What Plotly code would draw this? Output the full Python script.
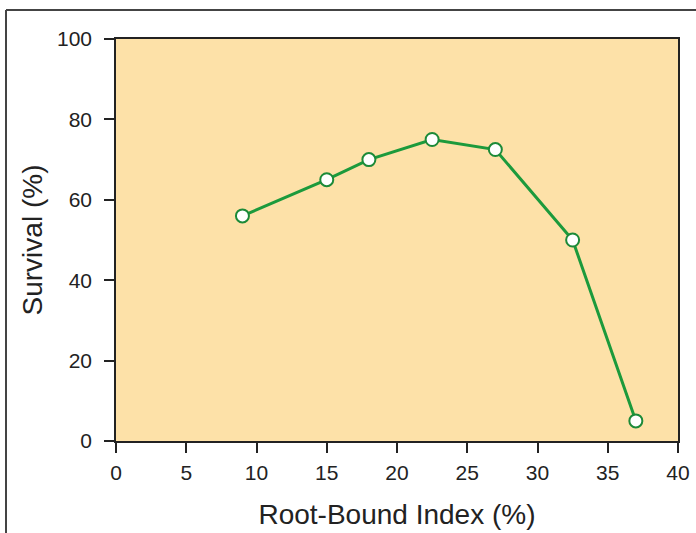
import plotly.graph_objects as go

root_bound_index = [9, 15, 18, 22.5, 27, 32.5, 37]
survival = [56, 65, 70, 75, 72.5, 50, 5]
x_ticks = [0, 5, 10, 15, 20, 25, 30, 35, 40]
y_ticks = [0, 20, 40, 60, 80, 100]

W, H = 696, 533
ml, mr, mt, mb = 116, 18, 39, 92
pw, ph = W - ml - mr, H - mt - mb
FONT = "Liberation Sans, Arial, sans-serif"

fig = go.Figure()
fig.add_trace(go.Scatter(
    x=root_bound_index, y=survival, mode="lines+markers",
    line=dict(color="#1c9a3c", width=3),
    marker=dict(size=13, color="white", line=dict(color="#1c8a38", width=2)),
    cliponaxis=False, showlegend=False,
))

axis_common = dict(
    showline=True, linecolor="#222", linewidth=1.5, mirror=True,
    ticks="outside", ticklen=10, tickwidth=1.5, tickcolor="#222",
    showgrid=False, zeroline=False, automargin=False,
    tickfont=dict(family=FONT, size=21, color="#222"),
)
fig.update_xaxes(range=[0, 40], tickvals=x_ticks, ticklabelstandoff=2,
                 title=dict(text="Root-Bound Index (%)", standoff=21,
                            font=dict(family=FONT, size=28, color="#222")),
                 **axis_common)
fig.update_yaxes(range=[0, 100], tickvals=y_ticks, ticklabelstandoff=8,
                 title=dict(text="Survival (%)", standoff=6,
                            font=dict(family=FONT, size=28, color="#222")),
                 **axis_common)

# outer frame of the figure
x0 = (6 - ml) / pw
y1 = 1 + (mt - 10) / ph
fig.add_shape(type="line", xref="paper", yref="paper", x0=x0, x1=x0, y0=-mb / ph - 0.01, y1=y1,
              line=dict(color="#444", width=2))
fig.add_shape(type="line", xref="paper", yref="paper", x0=x0, x1=1 + mr / pw + 0.01, y0=y1, y1=y1,
              line=dict(color="#444", width=2))

fig.update_layout(
    width=W, height=H,
    margin=dict(l=ml, r=mr, t=mt, b=mb, autoexpand=False),
    plot_bgcolor="#fde1a8", paper_bgcolor="white",
    font=dict(family=FONT, color="#222"),
)
fig.write_html("out.html", config={"displayModeBar": False},
               post_script="document.body.style.margin='0';")
